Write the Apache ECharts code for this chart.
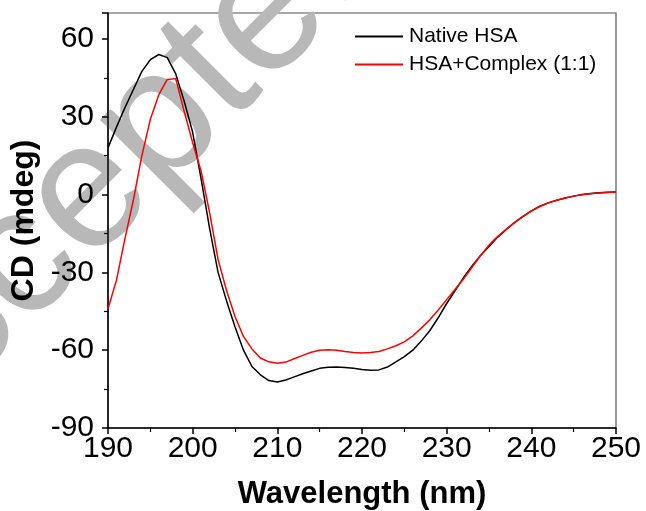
<!DOCTYPE html>
<html lang="en">

<head>
    <meta charset="UTF-8">
    <title>CD spectra</title>
    <script src="https://cdn.jsdelivr.net/npm/echarts@6/dist/echarts.min.js"></script>
</head>

<body style="margin:0;background:#fff;">
    <div id="chart" style="width:646px;height:511px;"></div>
</body>
<script>
    // wavelength (nm), 1 nm steps
    var wavelength = [];
    for (var w = 190; w <= 250; w++) wavelength.push(w);

    // Native HSA
    var nativeHSA = [
        18, 26, 33.5, 40.5, 47.5, 52, 54, 52.8, 46.5, 36,
        24, 6, -13, -30, -41, -51, -60, -66.3, -69.5, -71.7,
        -72.3, -71.5, -70.3, -69.1, -68, -67, -66.6, -66.5, -66.7, -67,
        -67.4, -67.7, -67.6, -66.5, -64.5, -62.5, -60, -56.5, -52.5, -47.5,
        -42, -37, -32, -27.5, -23.5, -20, -16.5, -13.5, -10.8, -8.5,
        -6.3, -4.5, -3.2, -2.2, -1.3, -0.6, 0, 0.4, 0.7, 0.9,
        1.0
    ];

    // HSA+Complex (1:1)
    var complexHSA = [
        -44, -33, -17, -2, 15, 29, 38.5, 44.4, 44.7, 32,
        20, 9, -7, -25, -37, -47, -54.7, -59.5, -63, -64.5,
        -65, -64.6, -63.3, -62, -60.8, -60, -59.8, -60, -60.5, -60.9,
        -61.1, -60.9, -60.5, -59.5, -58.3, -56.8, -54.5, -51.5, -48.3, -44.5,
        -40.5, -36.5, -32.5, -28, -23.5, -19.5, -16.2, -13.5, -10.8, -8.4,
        -6.4, -4.6, -3.2, -2.2, -1.3, -0.6, -0.1, 0.3, 0.6, 0.8,
        1.0
    ];

    function pairs(ys) {
        return wavelength.map(function (x, i) { return [x, ys[i]]; });
    }

    var chart = echarts.init(document.getElementById('chart'));

    var font = 'Liberation Sans, Arial, sans-serif';

    var option = {
        backgroundColor: '#fff',
        animation: false,
        grid: {
            left: 108, right: 30, top: 13, bottom: 83,
            outerBoundsMode: 'none',
            show: true, borderColor: '#555', borderWidth: 1.2
        },
        // journal watermark
        graphic: [{
            type: 'text',
            x: 106, y: 178,
            rotation: Math.PI / 4,
            z: 0,
            style: {
                text: 'Accepted',
                fontFamily: font,
                fontSize: 180,
                fill: '#b8b8b8',
                align: 'center',
                verticalAlign: 'middle'
            }
        }],
        legend: {
            orient: 'vertical',
            left: 350, top: 21,
            itemWidth: 48, itemHeight: 2, itemGap: 7,
            icon: 'rect',
            textStyle: { fontFamily: font, fontSize: 21, color: '#000', lineHeight: 21, padding: [0, 0, 0, 1] },
            data: ['Native HSA', 'HSA+Complex (1:1)']
        },
        xAxis: {
            type: 'value',
            min: 190, max: 250, interval: 10,
            name: 'Wavelength (nm)',
            nameLocation: 'middle',
            nameGap: 51,
            nameTextStyle: { fontFamily: font, fontSize: 31, fontWeight: 'bold', color: '#000' },
            axisLine: { onZero: false, lineStyle: { color: '#000', width: 1.5 } },
            axisTick: { length: 6, lineStyle: { color: '#000', width: 1.5 } },
            minorTick: { show: true, splitNumber: 2, length: 4, lineStyle: { color: '#000', width: 1.2 } },
            axisLabel: { fontFamily: font, fontSize: 30, color: '#000', margin: 6 },
            splitLine: { show: false }
        },
        yAxis: {
            type: 'value',
            min: -90, max: 70, interval: 30,
            name: 'CD (mdeg)',
            nameLocation: 'middle',
            nameGap: 64,
            nameRotate: 90,
            nameTextStyle: { fontFamily: font, fontSize: 32, fontWeight: 'bold', color: '#000' },
            axisLine: { show: true, onZero: false, lineStyle: { color: '#000', width: 1.5 } },
            axisTick: { show: true, length: 6, lineStyle: { color: '#000', width: 1.5 } },
            minorTick: { show: true, splitNumber: 2, length: 4, lineStyle: { color: '#000', width: 1.2 } },
            axisLabel: {
                fontFamily: font, fontSize: 30, color: '#000', margin: 14,
                formatter: function (v) { return v % 30 === 0 ? String(v) : ''; }
            },
            splitLine: { show: false }
        },
        series: [{
            name: 'Native HSA',
            type: 'line',
            data: pairs(nativeHSA),
            showSymbol: false,
            symbol: 'none',
            z: 3,
            lineStyle: { color: '#000', width: 1.5 },
            itemStyle: { color: '#000' }
        }, {
            name: 'HSA+Complex (1:1)',
            type: 'line',
            data: pairs(complexHSA),
            showSymbol: false,
            symbol: 'none',
            z: 4,
            lineStyle: { color: '#f00', width: 1.5 },
            itemStyle: { color: '#f00' }
        }]
    };

    chart.setOption(option);
</script>

</html>
